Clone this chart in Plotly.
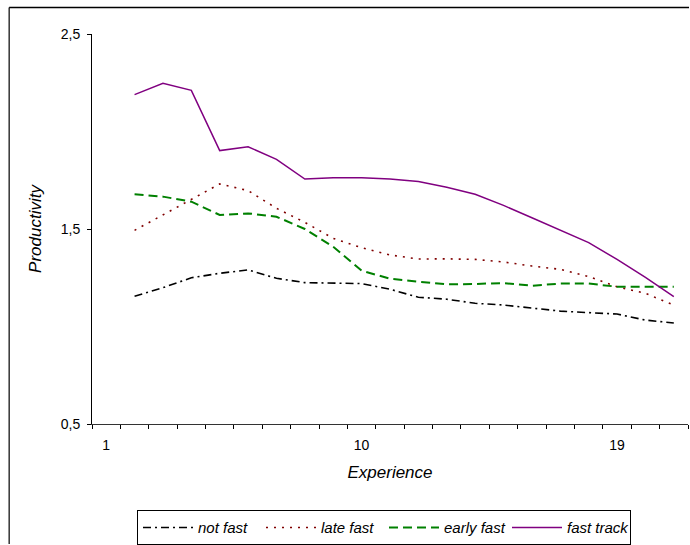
import plotly.graph_objects as go

experience = list(range(2, 22))
not_fast = [1.155, 1.199, 1.250, 1.273, 1.290, 1.247, 1.225, 1.223, 1.220, 1.191,
            1.150, 1.140, 1.119, 1.110, 1.096, 1.079, 1.071, 1.064, 1.033, 1.018]
late_fast = [1.493, 1.572, 1.652, 1.731, 1.697, 1.606, 1.534, 1.452, 1.404, 1.367,
             1.346, 1.347, 1.344, 1.331, 1.310, 1.293, 1.256, 1.204, 1.170, 1.110]
early_fast = [1.678, 1.666, 1.640, 1.572, 1.580, 1.563, 1.500, 1.409, 1.286, 1.245,
              1.230, 1.216, 1.218, 1.223, 1.209, 1.220, 1.220, 1.204, 1.204, 1.204]
fast_track = [2.189, 2.247, 2.211, 1.902, 1.922, 1.857, 1.756, 1.763, 1.763, 1.756,
              1.743, 1.714, 1.678, 1.621, 1.558, 1.495, 1.430, 1.344, 1.252, 1.153]

x_tickvals = [1, 10, 19]
x_ticktext = ["1", "10", "19"]
y_tickvals = [0.5, 1.5, 2.5]
y_ticktext = ["0,5", "1,5", "2,5"]

FONT = "Arial, 'Liberation Sans', sans-serif"

fig = go.Figure()
fig.add_trace(go.Scatter(x=experience, y=not_fast, mode="lines", name="not fast",
                         line=dict(color="#000000", width=1.6, dash="8px,4px,2px,4px")))
fig.add_trace(go.Scatter(x=experience, y=late_fast, mode="lines", name="late fast",
                         line=dict(color="#800000", width=1.6, dash="2px,6px")))
fig.add_trace(go.Scatter(x=experience, y=early_fast, mode="lines", name="early fast",
                         line=dict(color="#008000", width=2, dash="9px,5px")))
fig.add_trace(go.Scatter(x=experience, y=fast_track, mode="lines", name="fast track",
                         line=dict(color="#800080", width=1.5)))

fig.update_layout(
    width=690, height=545,
    margin=dict(l=92, r=2, t=34, b=121, autoexpand=False),
    paper_bgcolor="white", plot_bgcolor="white",
    font=dict(family=FONT, color="#000000", size=14),
    showlegend=True,
    legend=dict(orientation="h", x=0.0755, y=-0.221, xanchor="left", yanchor="top",
                bordercolor="#000000", borderwidth=1, bgcolor="white",
                font=dict(size=15, style="italic"), entrywidth=58,
                itemwidth=50, tracegroupgap=0),
    xaxis=dict(range=[0.5, 21.5], tickmode="array", tickvals=x_tickvals, ticktext=x_ticktext,
               ticks="", showgrid=False, zeroline=False, showline=True, automargin=False,
               linecolor="#333333", linewidth=1, ticklabelstandoff=8,
               minor=dict(tickmode="linear", tick0=0.5, dtick=1, ticks="outside",
                          ticklen=4, tickcolor="#000000", showgrid=False),
               title=dict(text="Experience", font=dict(size=17, style="italic"), standoff=14)),
    yaxis=dict(range=[0.5, 2.5], tickmode="array", tickvals=y_tickvals, ticktext=y_ticktext,
               ticks="outside", ticklen=4, tickcolor="#000000", showgrid=False, automargin=False,
               zeroline=False, showline=True, linecolor="#000000", linewidth=1,
               ticklabelstandoff=4,
               title=dict(text="Productivity", font=dict(size=17, style="italic"), standoff=14)),
    shapes=[
        dict(type="line", xref="paper", yref="paper", x0=-0.139, x1=-0.139,
             y0=-0.3077, y1=1.0680, line=dict(color="#000000", width=1.2)),
        dict(type="line", xref="paper", yref="paper", x0=-0.139, x1=1.0017,
             y0=1.0680, y1=1.0680, line=dict(color="#000000", width=1.5)),
    ],
)

fig.write_html("out.html", config={"displayModeBar": False},
               post_script="document.body.style.margin='0';")
